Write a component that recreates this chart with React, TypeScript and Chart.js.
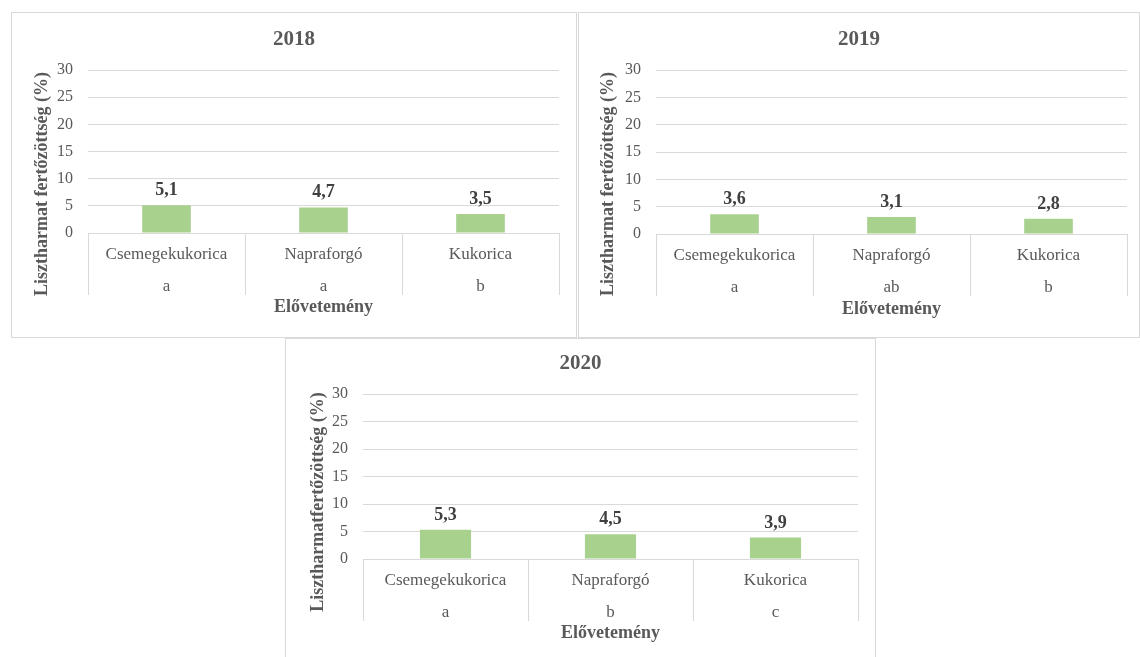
import React, { useEffect, useRef } from "react";
import { Chart, registerables } from "chart.js";

Chart.register(...registerables);

const categories = ["Csemegekukorica", "Napraforgó", "Kukorica"];
const years = ["2018", "2019", "2020"];
const values2018 = [5.1, 4.7, 3.5];
const values2019 = [3.6, 3.1, 2.8];
const values2020 = [5.3, 4.5, 3.9];
const letters2018 = ["a", "a", "b"];
const letters2019 = ["a", "ab", "b"];
const letters2020 = ["a", "b", "c"];
const yTitles = [
  "Lisztharmat fertőzöttség (%)",
  "Lisztharmat fertőzöttség (%)",
  "Lisztharmatfertőzöttség (%)",
];
const xTitle = "Elővetemény";
const yMin = 0;
const yMax = 30;
const yStep = 5;

const FONT = "'Liberation Serif', 'Times New Roman', serif";
const GREY = "#595959";
const DARK = "#404040";
const LINE = "#D9D9D9";
const BAR = "#A9D18E";

type Geo = {
  left: number; top: number; width: number; height: number;
  plotLeft: number; plotRight: number; plotTop: number; plotBottom: number;
  titleY: number; yTitleX: number; yTitleY: number; xTitleY: number;
};

const geos: Geo[] = [
  { left: 11, top: 12, width: 566, height: 326, plotLeft: 77, plotRight: 548, plotTop: 58, plotBottom: 221, titleY: 28, yTitleX: 31, yTitleY: 172, xTitleY: 295 },
  { left: 578, top: 12, width: 562, height: 326, plotLeft: 78, plotRight: 549, plotTop: 58, plotBottom: 222, titleY: 28, yTitleX: 30, yTitleY: 172, xTitleY: 297 },
  { left: 285, top: 338, width: 591, height: 322, plotLeft: 78, plotRight: 573, plotTop: 56, plotBottom: 221, titleY: 26, yTitleX: 33, yTitleY: 164, xTitleY: 295 },
];

const fmt = (v: number) => v.toFixed(1).replace(".", ",");

function Panel(props: { idx: number; values: number[]; letters: string[] }) {
  const ref = useRef<HTMLCanvasElement | null>(null);
  const g = geos[props.idx];
  useEffect(() => {
    if (!ref.current) return;
    const overlay = {
      id: "overlay",
      afterDraw(chart: any) {
        const ctx = chart.ctx;
        const { left, right, bottom } = chart.chartArea;
        const x = chart.scales.x;
        ctx.save();
        ctx.strokeStyle = LINE;
        ctx.lineWidth = 1;
        const n = categories.length;
        for (let i = 0; i <= n; i++) {
          const px = Math.round(x.left + (i * x.width) / n) + 0.5;
          ctx.beginPath();
          ctx.moveTo(px, bottom);
          ctx.lineTo(px, bottom + 62);
          ctx.stroke();
        }
        // data labels
        const meta = chart.getDatasetMeta(0);
        ctx.fillStyle = DARK;
        ctx.font = `bold 18px ${FONT}`;
        ctx.textAlign = "center";
        ctx.textBaseline = "alphabetic";
        meta.data.forEach((bar: any, i: number) => {
          ctx.fillText(fmt(props.values[i]), bar.x, bar.y - 10);
        });
        // chart title
        ctx.fillStyle = GREY;
        ctx.font = `bold 21px ${FONT}`;
        ctx.textBaseline = "middle";
        ctx.fillText(years[props.idx], g.width / 2, g.titleY);
        // x title
        ctx.font = `bold 18px ${FONT}`;
        ctx.fillText(xTitle, (left + right) / 2, g.xTitleY);
        // y title
        ctx.translate(g.yTitleX, g.yTitleY);
        ctx.rotate(-Math.PI / 2);
        ctx.fillText(yTitles[props.idx], 0, 0);
        ctx.restore();
      },
    };
    const chart = new Chart(ref.current, {
      type: "bar",
      data: {
        labels: categories.map((c, i) => [c, props.letters[i]]),
        datasets: [
          {
            data: props.values,
            backgroundColor: BAR,
            borderWidth: 0,
            barPercentage: 0.31,
            categoryPercentage: 1,
          },
        ],
      },
      options: {
        responsive: false,
        animation: false,
        devicePixelRatio: 1,
        layout: {
          padding: { left: 0, top: g.plotTop, right: g.width - g.plotRight, bottom: 0 },
        },
        plugins: {
          legend: { display: false },
          title: { display: false },
          tooltip: { enabled: false },
        },
        scales: {
          x: {
            grid: { display: false },
            border: { display: false },
            ticks: {
              color: GREY,
              padding: -2,
              maxRotation: 0,
              autoSkip: false,
              font: { family: FONT, size: 17, lineHeight: 32 / 17 },
            },
            afterFit: (s: any) => {
              s.height = g.height - g.plotBottom;
            },
          },
          y: {
            min: yMin,
            max: yMax,
            grid: { color: LINE, drawTicks: false },
            border: { display: false },
            ticks: {
              stepSize: yStep,
              color: GREY,
              padding: 15,
              font: { family: FONT, size: 16 },
            },
            afterFit: (s: any) => {
              s.width = g.plotLeft;
            },
          },
        },
      },
      plugins: [overlay],
    });
    return () => chart.destroy();
  }, []);
  return (
    <>
      <canvas
        ref={ref}
        width={g.width}
        height={g.height}
        style={{ position: "absolute", left: g.left, top: g.top, width: g.width, height: g.height }}
      />
      <div
        style={{
          position: "absolute",
          left: g.left,
          top: g.top,
          width: g.width,
          height: g.height,
          boxSizing: "border-box",
          border: `1px solid ${LINE}`,
          pointerEvents: "none",
        }}
      />
    </>
  );
}

export default function App() {
  return (
    <div style={{ position: "absolute", left: 0, top: 0, width: 1140, height: 657, overflow: "hidden", background: "#fff" }}>
      <Panel idx={0} values={values2018} letters={letters2018} />
      <Panel idx={1} values={values2019} letters={letters2019} />
      <Panel idx={2} values={values2020} letters={letters2020} />
    </div>
  );
}
